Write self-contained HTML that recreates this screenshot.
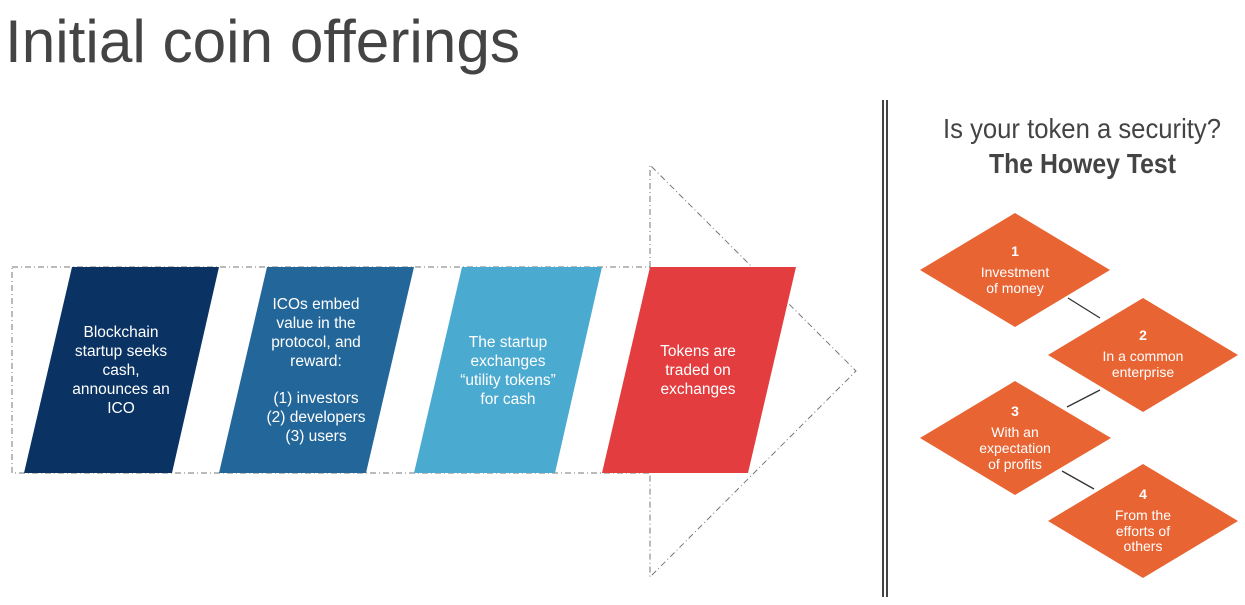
<!DOCTYPE html>
<html><head><meta charset="utf-8"><style>
html,body{margin:0;padding:0;background:#fff;}
svg{display:block}
text{font-family:"Liberation Sans Narrow","Liberation Sans",sans-serif;}
</style></head><body>
<svg width="1245" height="605" viewBox="0 0 1245 605" xmlns="http://www.w3.org/2000/svg">
<text x="5" y="62" font-size="60" fill="#444" textLength="515" lengthAdjust="spacingAndGlyphs">Initial coin offerings</text>
<rect x="12" y="267" width="638" height="206" fill="none" stroke="#777" stroke-width="1" stroke-dasharray="6,3,1,3"/>
<polyline points="650,267 650,165 856,371 650,577 650,473" fill="none" stroke="#777" stroke-width="1" stroke-dasharray="6,3,1,3"/>
<polygon points="72,267 219,267 172,473 24,473" fill="#0a3363"/>
<polygon points="267,267 414,267 366,473 219,473" fill="#236699"/>
<polygon points="462,267 602,267 555,473 414,473" fill="#4baad0"/>
<polygon points="650,267 796,267 748,473 602,473" fill="#e33d3f"/>
<g fill="#fff" font-size="15.5" text-anchor="middle">
<text x="121" y="337">Blockchain</text><text x="121" y="356">startup seeks</text><text x="121" y="375">cash,</text><text x="121" y="394">announces an</text><text x="121" y="413">ICO</text>
<text x="316" y="309">ICOs embed</text><text x="316" y="328">value in the</text><text x="316" y="347">protocol, and</text><text x="316" y="366">reward:</text>
<text x="316" y="403">(1) investors</text><text x="316" y="422">(2) developers</text><text x="316" y="441">(3) users</text>
<text x="508" y="347">The startup</text><text x="508" y="366">exchanges</text><text x="508" y="385">“utility tokens”</text><text x="508" y="404">for cash</text>
<text x="698" y="356">Tokens are</text><text x="698" y="375">traded on</text><text x="698" y="394">exchanges</text>
</g>
<rect x="882" y="100" width="2" height="497" fill="#444"/>
<rect x="886" y="100" width="2" height="497" fill="#444"/>
<text x="943" y="138" font-size="28" fill="#444" textLength="278" lengthAdjust="spacingAndGlyphs">Is your token a security?</text>
<text x="989" y="173" font-size="28" font-weight="bold" fill="#444" textLength="187" lengthAdjust="spacingAndGlyphs">The Howey Test</text>
<g stroke="#333" stroke-width="1.3">
<line x1="1068" y1="298" x2="1100" y2="318"/><line x1="1100" y1="390" x2="1067" y2="407"/><line x1="1062" y1="471" x2="1094" y2="489"/>
</g>
<g fill="#e86433">
<polygon points="1015,213 1110,270 1015,327 920,270"/>
<polygon points="1143,298 1238,355 1143,412 1048,355"/>
<polygon points="1015,381 1111,438 1015,495 920,438"/>
<polygon points="1143,464 1238,521 1143,578 1048,521"/>
</g>
<g fill="#fff" font-size="14" text-anchor="middle">
<text x="1015" y="256" font-weight="bold">1</text><text x="1015" y="277">Investment</text><text x="1015" y="293">of money</text>
<text x="1143" y="340" font-weight="bold">2</text><text x="1143" y="361">In a common</text><text x="1143" y="377">enterprise</text>
<text x="1015" y="416" font-weight="bold">3</text><text x="1015" y="437">With an</text><text x="1015" y="453">expectation</text><text x="1015" y="469">of profits</text>
<text x="1143" y="499" font-weight="bold">4</text><text x="1143" y="520">From the</text><text x="1143" y="536">efforts of</text><text x="1143" y="551">others</text>
</g>
</svg>
</body></html>
